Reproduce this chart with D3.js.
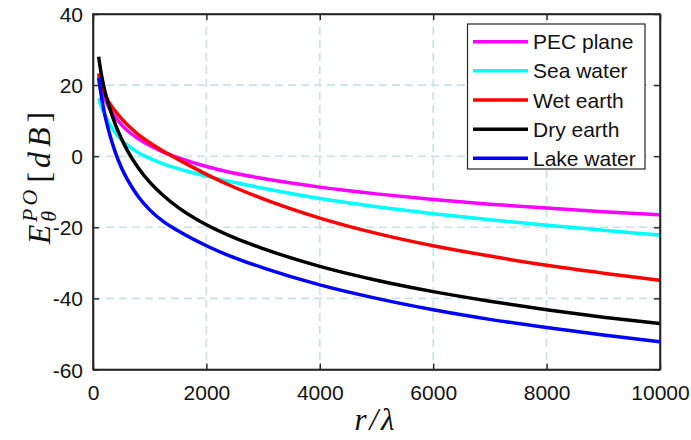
<!DOCTYPE html>
<html>
<head>
<meta charset="utf-8">
<script src="https://cdn.jsdelivr.net/npm/d3@7"></script>
<style>
  html, body { margin: 0; padding: 0; background: #fff; }
  svg { display: block; }
</style>
</head>
<body>
<svg id="chart" width="691" height="440"></svg>
<script>
// ---- data ----
const rValues   = [100, 125, 150, 200, 250, 300, 400, 500, 600, 800, 1000, 1250, 1500, 2000, 2500, 3000, 4000, 5000, 6000, 7000, 8000, 9000, 10000];
const pecPlane  = [22.5, 20.6, 19.1, 16.6, 14.7, 13.2, 10.8, 8.9, 7.3, 4.9, 3.0, 1.1, -0.4, -2.9, -4.8, -6.3, -8.7, -10.6, -12.2, -13.5, -14.6, -15.6, -16.5];
const seaWater  = [16.3, 15.0, 13.9, 11.9, 10.2, 8.8, 6.5, 4.6, 3.2, 1.0, -0.6, -2.2, -3.5, -5.6, -7.4, -9.0, -11.9, -14.2, -16.2, -17.9, -19.4, -20.8, -22.2];
const wetEarth  = [23.3, 21.6, 20.1, 17.9, 16.1, 14.7, 12.5, 10.6, 8.9, 6.1, 3.8, 1.3, -0.9, -5.1, -8.8, -12.0, -17.4, -21.7, -25.2, -28.1, -30.7, -32.9, -34.9];
const dryEarth  = [28.0, 25.2, 22.8, 18.9, 15.8, 13.2, 8.7, 5.0, 1.8, -3.3, -7.3, -11.2, -14.4, -19.3, -23.0, -26.0, -31.0, -34.9, -38.1, -40.8, -43.2, -45.3, -47.1];
const lakeWater = [22.0, 19.1, 16.6, 12.3, 8.8, 5.8, 0.8, -3.2, -6.4, -11.4, -15.1, -18.5, -21.0, -25.2, -28.6, -31.4, -36.2, -40.0, -43.2, -45.9, -48.2, -50.3, -52.2];
const seriesNames  = ["PEC plane", "Sea water", "Wet earth", "Dry earth", "Lake water"];
const seriesColors = ["#ff00ff", "#00ffff", "#ff0000", "#000000", "#0000ff"];
const seriesValues = [pecPlane, seaWater, wetEarth, dryEarth, lakeWater];
const xTicks = [0, 2000, 4000, 6000, 8000, 10000];
const yTicks = [-60, -40, -20, 0, 20, 40];

// ---- layout ----
const svg = d3.select("#chart");
const L = 93, R = 660, T = 14, B = 369.5;
const x = d3.scaleLinear().domain([0, 10000]).range([L, R]);
const y = d3.scaleLinear().domain([-60, 40]).range([B, T]);
const axisColor = "#262626";
const gridColor = "#cbe2e2";
const tickFont = "'Liberation Sans', Arial, Helvetica, sans-serif";
const mathFont = "'Liberation Serif', 'Times New Roman', serif";

// grid
const grid = svg.append("g");
grid.selectAll("line.gx").data(xTicks.slice(1, -1)).enter().append("line")
  .attr("x1", d => x(d)).attr("x2", d => x(d)).attr("y1", T).attr("y2", B)
  .attr("stroke", gridColor).attr("stroke-width", 1.6).attr("stroke-dasharray", "8,5");
grid.selectAll("line.gy").data(yTicks.slice(1, -1)).enter().append("line")
  .attr("y1", d => y(d)).attr("y2", d => y(d)).attr("x1", L).attr("x2", R)
  .attr("stroke", gridColor).attr("stroke-width", 1.6).attr("stroke-dasharray", "8,5");

// lines
const clipId = "plotclip";
svg.append("clipPath").attr("id", clipId).append("rect")
  .attr("x", L).attr("y", T).attr("width", R - L).attr("height", B - T);
const line = d3.line().x(d => x(d[0])).y(d => y(d[1])).curve(d3.curveMonotoneX);
const lines = svg.append("g").attr("clip-path", `url(#${clipId})`);
seriesValues.forEach((vals, i) => {
  lines.append("path")
    .datum(rValues.map((r, j) => [r, vals[j]]))
    .attr("d", line)
    .attr("fill", "none")
    .attr("stroke", seriesColors[i])
    .attr("stroke-width", 3.5)
    .attr("stroke-linejoin", "round");
});

// axes (ticks inside, box)
const tickLen = 6;
const axB = svg.append("g").attr("transform", `translate(0,${B})`)
  .call(d3.axisBottom(x).tickValues(xTicks).tickSizeInner(-tickLen).tickSizeOuter(0).tickPadding(16).tickFormat(d => String(d)));
const axT = svg.append("g").attr("transform", `translate(0,${T})`)
  .call(d3.axisTop(x).tickValues(xTicks).tickSizeInner(-tickLen).tickSizeOuter(0).tickFormat(""));
const axL = svg.append("g").attr("transform", `translate(${L},0)`)
  .call(d3.axisLeft(y).tickValues(yTicks).tickSizeInner(-tickLen).tickSizeOuter(0).tickPadding(10).tickFormat(d => String(d)));
const axR = svg.append("g").attr("transform", `translate(${R},0)`)
  .call(d3.axisRight(y).tickValues(yTicks).tickSizeInner(-tickLen).tickSizeOuter(0).tickFormat(""));
[axB, axT, axL, axR].forEach(a => {
  a.select(".domain").attr("stroke", axisColor).attr("stroke-width", 1.6);
  a.selectAll(".tick line").attr("stroke", axisColor).attr("stroke-width", 1.4);
  a.selectAll("text").attr("fill", "#111").style("font-family", tickFont).style("font-size", "21px");
});
axB.selectAll(".tick text").attr("dy", "0.71em");
axL.selectAll(".tick text").attr("dy", "0.36em");
svg.append("rect").attr("x", L).attr("y", T).attr("width", R - L).attr("height", B - T)
  .attr("fill", "none").attr("stroke", axisColor).attr("stroke-width", 1.6);

// axis labels
svg.append("text")
  .attr("x", 376).attr("y", 430)
  .attr("text-anchor", "middle")
  .style("font-family", mathFont)
  .style("font-size", "31px")
  .style("font-style", "italic")
  .style("letter-spacing", "3px")
  .attr("fill", "#111")
  .text("r/λ");

const yl = svg.append("text")
  .attr("transform", "translate(50,178) rotate(-90)")
  .attr("text-anchor", "middle")
  .style("font-family", mathFont)
  .style("font-size", "32px")
  .attr("fill", "#111");
yl.append("tspan").style("font-style", "italic").style("letter-spacing", "2px").text("E");
yl.append("tspan").style("font-style", "italic").style("font-size", "22px").attr("dx", 1).attr("dy", 6).text("θ");
yl.append("tspan").style("font-style", "italic").style("font-size", "22px").attr("dx", -11).attr("dy", -19).style("letter-spacing", "3px").text("PO");
yl.append("tspan").attr("dy", 13).attr("dx", 4).style("letter-spacing", "4px").text("[");
yl.append("tspan").style("font-style", "italic").style("letter-spacing", "5px").text("dB");
yl.append("tspan").text("]");

// legend
const lg = svg.append("g");
lg.append("rect").attr("x", 467.5).attr("y", 24).attr("width", 177.5).attr("height", 145)
  .attr("fill", "#fff").attr("stroke", axisColor).attr("stroke-width", 1.2);
seriesNames.forEach((name, i) => {
  const cy = 41.7 + i * 29.15;
  lg.append("line").attr("x1", 473).attr("x2", 528).attr("y1", cy).attr("y2", cy)
    .attr("stroke", seriesColors[i]).attr("stroke-width", 3.5);
  lg.append("text").attr("x", 533).attr("y", cy).attr("dy", "0.36em")
    .style("font-family", tickFont).style("font-size", "21px").attr("fill", "#111")
    .text(name);
});
</script>
</body>
</html>
